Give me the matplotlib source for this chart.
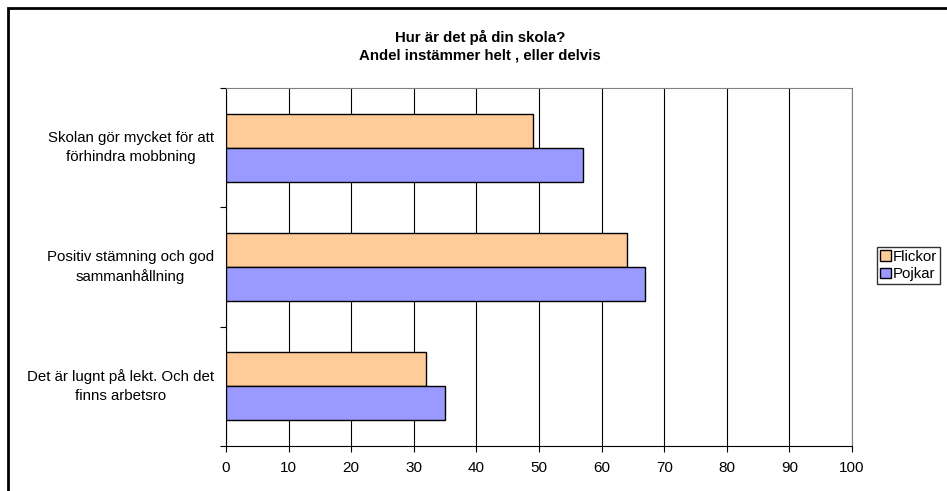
import matplotlib.pyplot as plt
import numpy as np
from matplotlib.patches import Rectangle

plt.rcParams['font.family'] = ['Liberation Sans', 'DejaVu Sans']

# Data
categories = ["Skolan gör mycket för att\nförhindra mobbning",
              "Positiv stämning och god\nsammanhållning",
              "Det är lugnt på lekt. Och det\nfinns arbetsro"]
flickor = [49, 64, 32]
pojkar = [57, 67, 35]
x_ticks = list(range(0, 101, 10))

W, H = 947, 491
fig = plt.figure(figsize=(W / 100, H / 100), dpi=100)
ax = fig.add_axes([226 / W, 1 - 446 / H, (852 - 226) / W, (446 - 88) / H])

n = len(categories)
pos = np.arange(n)[::-1] + 0.5  # top category first
bw = 0.285
ax.barh(pos + bw / 2, flickor, height=bw, color='#FFCC99', edgecolor='black', lw=1, label='Flickor', zorder=3)
ax.barh(pos - bw / 2, pojkar, height=bw, color='#9999FF', edgecolor='black', lw=1, label='Pojkar', zorder=3)

ax.set_xlim(0, 100)
ax.set_ylim(0, n)
ax.set_xticks(x_ticks)
ax.tick_params(axis='x', labelsize=11, length=4, direction='out', pad=7)
ax.set_yticks(range(n + 1))
ax.set_yticklabels([])
ax.tick_params(axis='y', length=4, direction='out')
ax.xaxis.grid(True, color='black', lw=0.8, zorder=0)

for p, lab in zip(pos, categories):
    ax.text(-0.019, p, lab, transform=ax.get_yaxis_transform(), ha='right', va='center',
            fontsize=10.8, multialignment='center', linespacing=1.45)

ax.spines['top'].set_color('#808080')
ax.spines['right'].set_color('#808080')
ax.spines['left'].set_color('black')
ax.spines['bottom'].set_color('black')

fig.text(480 / W, 1 - 46 / H, "Hur är det på din skola?\nAndel instämmer helt , eller delvis",
         ha='center', va='center', fontsize=10.8, fontweight='bold', linespacing=1.3)

leg = fig.legend(loc='center', bbox_to_anchor=(908.5 / W, 1 - 265.5 / H), fontsize=10.8,
                 frameon=True, fancybox=False, handlelength=0.7, handleheight=0.7,
                 handletextpad=0.15, borderpad=0.2, labelspacing=0.25, borderaxespad=0)
leg.get_frame().set_edgecolor('black')
leg.get_frame().set_linewidth(1)

# outer chart border
fig.patches.append(Rectangle((8 / W, -0.1), 1.2, 1 - 8 / H + 0.1, transform=fig.transFigure,
                             fill=False, edgecolor='black', lw=2))

fig.savefig('out.png', dpi=100)
